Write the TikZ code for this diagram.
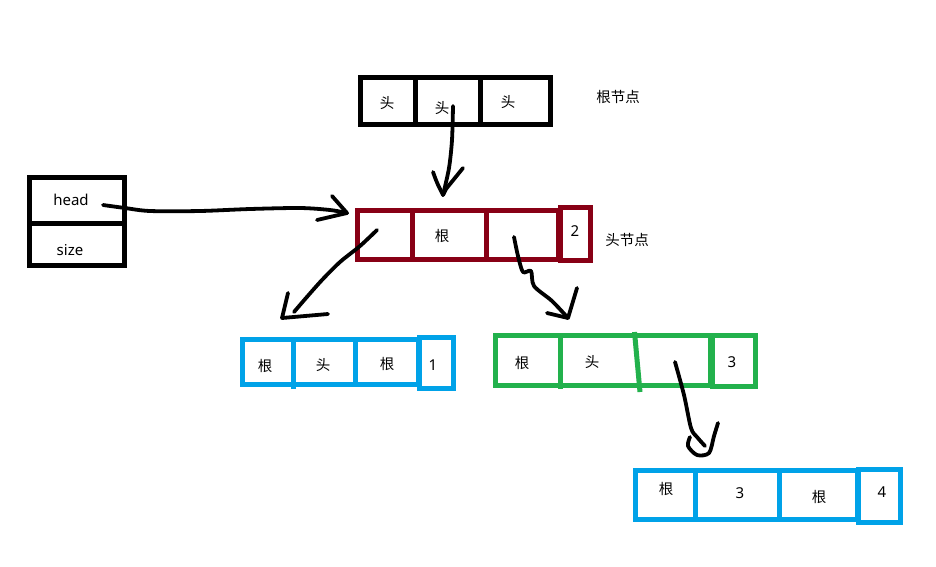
\documentclass[tikz,border=0pt]{standalone}
\usepackage{fontspec}
\setmainfont{Noto Sans}
\newfontfamily\cjk{Noto Sans CJK SC}
\definecolor{pdred}{HTML}{880015}
\definecolor{pblue}{HTML}{00A2E8}
\definecolor{pgreen}{HTML}{22B14C}
\begin{document}
\begin{tikzpicture}[x=1pt,y=-1pt,
  box/.style={line width=5pt},
  txt/.style={inner sep=0pt,font=\fontsize{15}{17}\selectfont},
  ctxt/.style={inner sep=0pt,font=\cjk\fontsize{14.5}{17}\selectfont},
  stroke/.style={line width=3.8pt,line cap=round,line join=round,black}]
\useasboundingbox[fill=white] (0,0) rectangle (936,566);
% top box (root node)
\draw[box] (360,77.5) rectangle (550,124.5);
\draw[box] (415.5,75) -- (415.5,127);
\draw[box] (480.5,75) -- (480.5,127);
\node[ctxt] (t1) at (387,103) {头};
\node[ctxt] (t2) at (442,108) {头};
\node[ctxt] (t3) at (508,102) {头};
\node[ctxt] (rootlbl) at (618,97) {根节点};
% left box
\draw[box] (29.5,177.5) rectangle (124,265.5);
\draw[box] (27,223) -- (126.5,223);
\node[txt] (hd) at (71,200) {head};
\node[txt] (sz) at (70,250) {size};
% red box (head node)
\draw[box,pdred] (357.5,210.5) rectangle (558,259.5);
\draw[box,pdred] (412,208) -- (412,262);
\draw[box,pdred] (486,208) -- (486,262);
\draw[box,pdred] (560,207.5) rectangle (590.5,260);
\node[ctxt] (r2) at (442,236) {根};
\node[txt] (r4) at (575,231) {2};
\node[ctxt] (headlbl) at (627,240) {头节点};
% blue box 1
\draw[box,pblue] (242.5,339.5) rectangle (418,384.5);
\draw[box,pblue] (293.5,337) -- (293.5,389);
\draw[box,pblue] (355.5,337) -- (355.5,387);
\draw[box,pblue] (419.5,337.5) rectangle (453,388);
\node[ctxt] (b1) at (265,366) {根};
\node[ctxt] (b2) at (323,365) {头};
\node[ctxt] (b3) at (387,364) {根};
\node[txt] (b4) at (433,365) {1};
% green box
\draw[box,pgreen] (495.5,335.5) rectangle (710,385.5);
\draw[box,pgreen] (560,333) -- (560,389);
\draw[box,pgreen] (634.5,332) -- (640,392);
\draw[box,pgreen] (712,335.5) rectangle (755.5,386.5);
\node[ctxt] (g1) at (522,363) {根};
\node[ctxt] (g2) at (592,362) {头};
\node[txt] (g4) at (732,362) {3};
% blue box 2
\draw[box,pblue] (635.5,470.5) rectangle (857,519.5);
\draw[box,pblue] (695,468) -- (695,522);
\draw[box,pblue] (779,468) -- (779,522);
\draw[box,pblue] (858,469.5) rectangle (900.5,522.5);
\node[ctxt] (c1) at (666,489) {根};
\node[txt] (c2) at (740,493) {3};
\node[ctxt] (c3) at (819,497) {根};
\node[txt] (c4) at (882,492) {4};
% hand-drawn arrows
\coordinate (a1s) at (453,106); \coordinate (a1e) at (443,195);
\draw[stroke] plot[smooth] coordinates {(a1s) (452,140) (449,168) (a1e)};
\draw[stroke] (433,172) .. controls (437,183) .. (a1e) -- (446,189) -- (463,168);
\coordinate (a2s) at (103,205); \coordinate (a2e) at (347,213);
\draw[stroke] plot[smooth] coordinates {(a2s) (125,208) (150,211) (200,211) (250,209) (300,208) (330,210) (a2e)};
\draw[stroke] (332,196) -- (a2e) -- (317,220);
\coordinate (a3s) at (377,230); \coordinate (a3e) at (294,312);
\draw[stroke] plot[smooth] coordinates {(a3s) (360,246) (340,262) (322,280) (306,298) (a3e)};
\draw[stroke] (288,293) -- (282,318) -- (328,314);
\coordinate (a4s) at (514,237); \coordinate (a4e) at (568,318);
\draw[stroke] plot[smooth] coordinates {(a4s) (518,256) (523,272) (531,271) (534,286) (552,301) (a4e)};
\draw[stroke] (547,313) -- (a4e) -- (577,288);
\coordinate (a5s) at (675,362); \coordinate (a5e) at (705,446);
\draw[stroke] plot[smooth] coordinates {(a5s) (684,395) (691,428) (697,437) (a5e)};
\draw[stroke] plot[smooth] coordinates {(690,437) (688,446) (697,455) (709,453) (714,436) (718,423)};
\end{tikzpicture}
\end{document}
